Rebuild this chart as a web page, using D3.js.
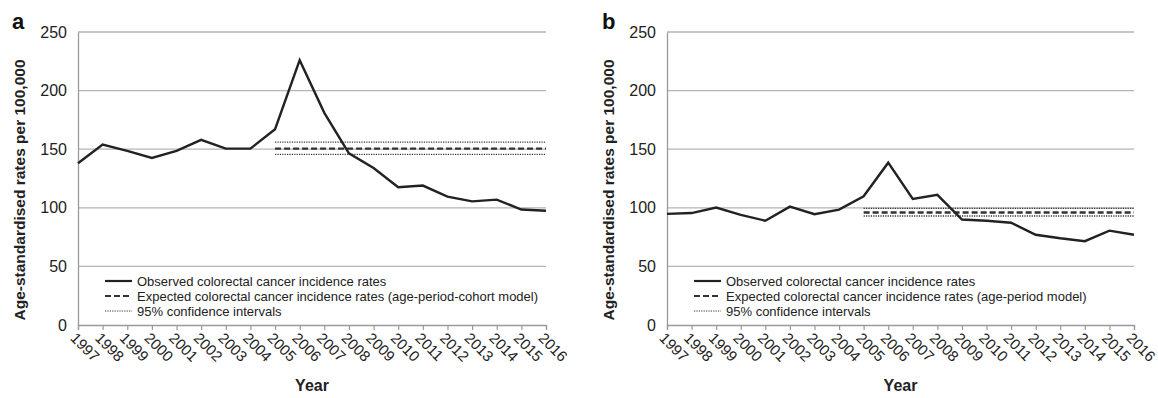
<!DOCTYPE html>
<html>
<head>
<meta charset="utf-8">
<script src="https://cdn.jsdelivr.net/npm/d3@7"></script>
<style>
  body { margin: 0; background: #fff; }
  svg { font-family: "Liberation Sans", Arial, sans-serif; }
</style>
</head>
<body>
<div id="chart"></div>
<script>
// data
const years = ["1997","1998","1999","2000","2001","2002","2003","2004","2005","2006",
               "2007","2008","2009","2010","2011","2012","2013","2014","2015","2016"];
const observedA = [138, 154, 148.5, 142.5, 148.5, 158, 150.5, 150.5, 167, 226,
                   181, 146.5, 134, 117.5, 119, 109.5, 105.5, 107, 98.5, 97.5];
const observedB = [94.8, 95.5, 100.2, 94, 89, 101, 94.5, 98.5, 109.8, 138.5,
                   107.5, 111, 90, 89, 87.3, 77, 74, 71.5, 80.5, 77];
const expectedYears = ["2005", "2016"];
const expectedA = 150.5, ciLowA = 145.5, ciHighA = 156;
const expectedB = 96, ciLowB = 93, ciHighB = 99.5;
const yTicks = [0, 50, 100, 150, 200, 250];
const legendA = ["Observed colorectal cancer incidence rates",
                 "Expected colorectal cancer incidence rates (age-period-cohort model)",
                 "95% confidence intervals"];
const legendB = ["Observed colorectal cancer incidence rates",
                 "Expected colorectal cancer incidence rates (age-period model)",
                 "95% confidence intervals"];

const W = 1158, H = 398;
const svg = d3.select("#chart").append("svg")
  .attr("width", W).attr("height", H);

const height = 293;
const lineStyles = [
  {dash: null, width: 2.4, color: "#222"},
  {dash: "6,3", width: 2.4, color: "#333"},
  {dash: "1.2,1.2", width: 1.3, color: "#333"}
];

function drawPanel(opts) {
  const {left, width, letter, observed, expected, ciLow, ciHigh, legend} = opts;
  const g = svg.append("g").attr("transform", `translate(${left},32)`);

  const x = d3.scalePoint().domain(years).range([0, width]);
  const y = d3.scaleLinear().domain([0, 250]).range([height, 0]);

  // gridlines
  g.append("g").selectAll("line")
    .data(yTicks.filter(d => d > 0))
    .join("line")
      .attr("x1", 0).attr("x2", width)
      .attr("y1", d => y(d)).attr("y2", d => y(d))
      .attr("stroke", "#b5b5b5").attr("stroke-width", 1.3);

  // y axis
  const ya = g.append("g")
    .call(d3.axisLeft(y).tickValues(yTicks).tickSize(0).tickPadding(11));
  ya.select(".domain").attr("stroke", "#9a9a9a").attr("stroke-width", 1.3);
  ya.selectAll("text").attr("font-size", 16).attr("fill", "#222");

  // x axis
  const xa = g.append("g")
    .attr("transform", `translate(0,${height})`)
    .call(d3.axisBottom(x).tickSizeOuter(0).tickSize(5));
  xa.select(".domain").attr("stroke", "#9a9a9a").attr("stroke-width", 1.3);
  xa.selectAll(".tick line").attr("stroke", "#9a9a9a").attr("stroke-width", 1.2);
  xa.selectAll("text")
    .attr("font-size", 15).attr("fill", "#222")
    .attr("text-anchor", "start")
    .attr("dy", "0")
    .attr("y", 0)
    .attr("transform", "translate(-9,14) rotate(45)");

  // confidence intervals
  [ciLow, ciHigh].forEach(v => {
    g.append("line")
      .attr("x1", x(expectedYears[0])).attr("x2", x(expectedYears[1]))
      .attr("y1", y(v)).attr("y2", y(v))
      .attr("stroke", lineStyles[2].color)
      .attr("stroke-width", lineStyles[2].width)
      .attr("stroke-dasharray", lineStyles[2].dash);
  });
  // expected
  g.append("line")
    .attr("x1", x(expectedYears[0])).attr("x2", x(expectedYears[1]))
    .attr("y1", y(expected)).attr("y2", y(expected))
    .attr("stroke", lineStyles[1].color)
    .attr("stroke-width", lineStyles[1].width)
    .attr("stroke-dasharray", lineStyles[1].dash);

  // observed
  g.append("path")
    .datum(years.map((yr, i) => [yr, observed[i]]))
    .attr("fill", "none")
    .attr("stroke", lineStyles[0].color)
    .attr("stroke-width", lineStyles[0].width)
    .attr("stroke-linejoin", "miter")
    .attr("d", d3.line().x(d => x(d[0])).y(d => y(d[1])));

  // legend
  const lg = g.append("g").attr("transform", "translate(27,249)");
  legend.forEach((label, i) => {
    const s = lineStyles[i];
    lg.append("line")
      .attr("x1", 0).attr("x2", 27)
      .attr("y1", i * 15).attr("y2", i * 15)
      .attr("stroke", s.color).attr("stroke-width", i === 2 ? 1 : 2.2)
      .attr("stroke-dasharray", s.dash);
    lg.append("text")
      .attr("x", 32).attr("y", i * 15 + 4.5)
      .attr("font-size", 13).attr("fill", "#222")
      .text(label);
  });

  // axis titles
  g.append("text")
    .attr("transform", `translate(-53,158) rotate(-90)`)
    .attr("text-anchor", "middle")
    .attr("font-size", 15.5).attr("font-weight", "bold").attr("fill", "#222")
    .text("Age-standardised rates per 100,000");

  g.append("text")
    .attr("x", width / 2).attr("y", height + 66)
    .attr("text-anchor", "middle")
    .attr("font-size", 16).attr("font-weight", "bold").attr("fill", "#222")
    .text("Year");

  g.append("text")
    .attr("x", letter === "a" ? -66 : -65).attr("y", -3)
    .attr("font-size", 22).attr("font-weight", "bold").attr("fill", "#111")
    .text(letter);
}

drawPanel({left: 78, width: 468, letter: "a", observed: observedA,
           expected: expectedA, ciLow: ciLowA, ciHigh: ciHighA, legend: legendA});
drawPanel({left: 667, width: 467, letter: "b", observed: observedB,
           expected: expectedB, ciLow: ciLowB, ciHigh: ciHighB, legend: legendB});
</script>
</body>
</html>
